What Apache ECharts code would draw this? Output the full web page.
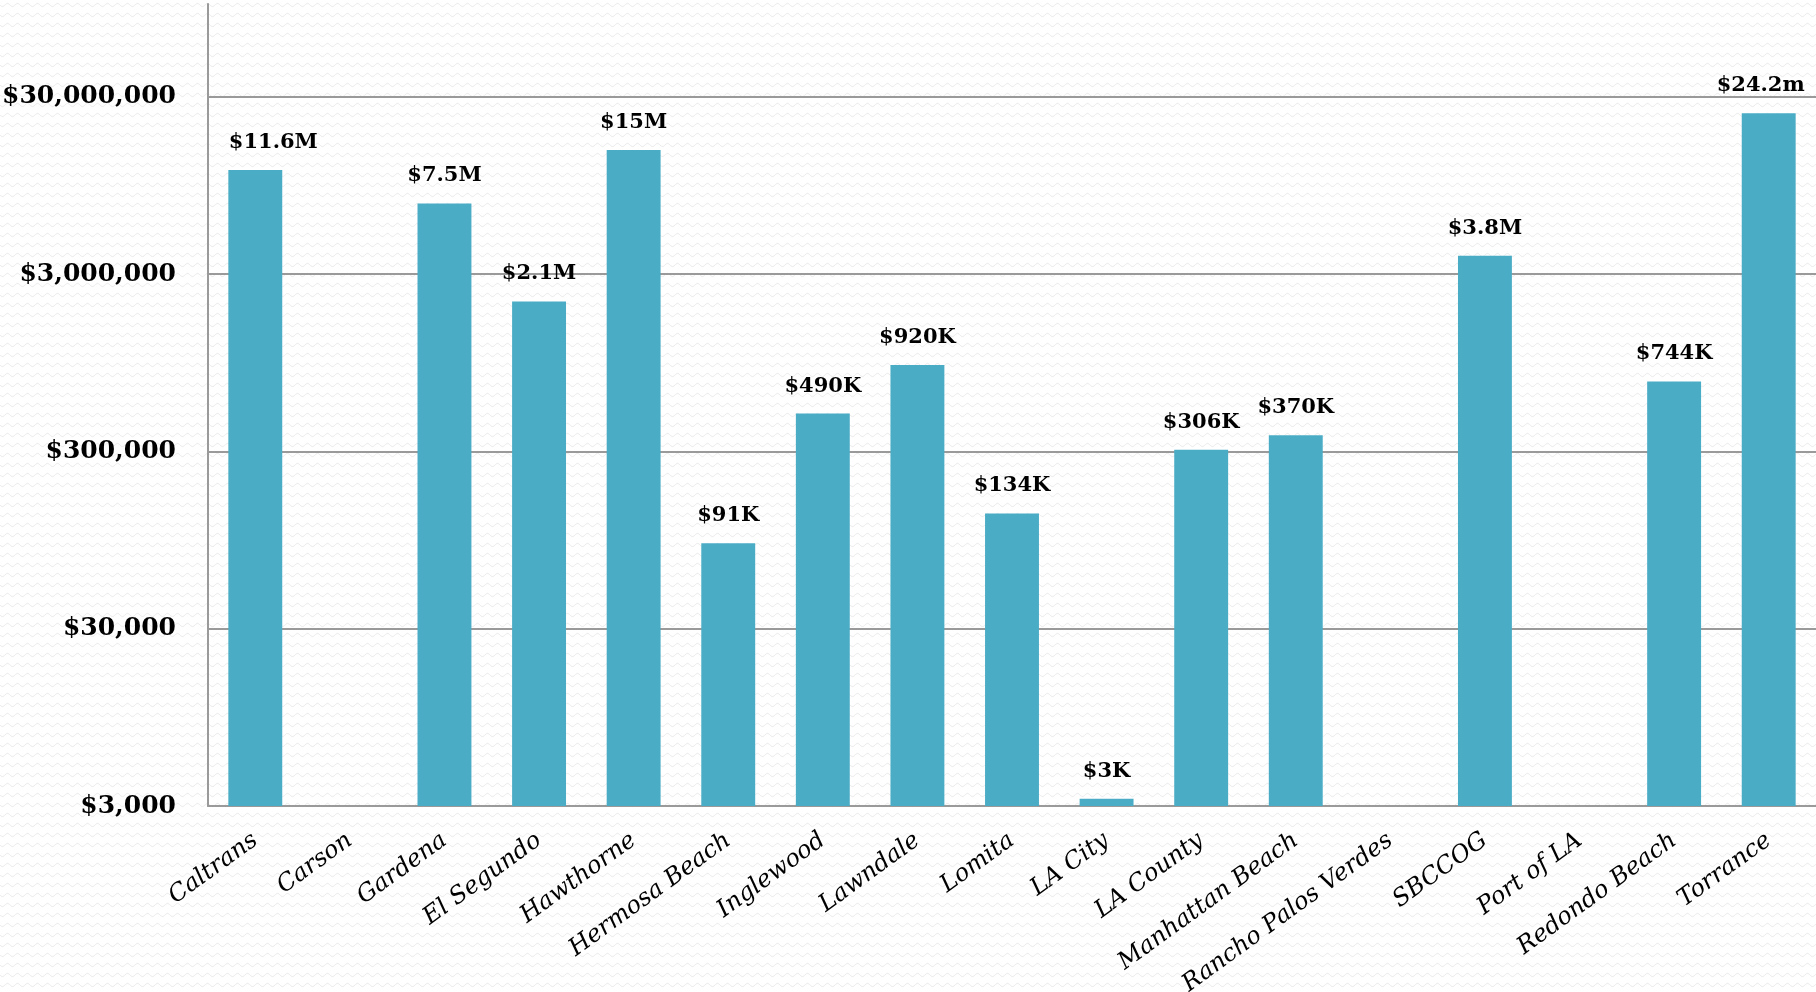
<!DOCTYPE html>
<html>
<head>
<meta charset="utf-8">
<script src="https://cdn.jsdelivr.net/npm/echarts@6/dist/echarts.min.js"></script>
<style>
html,body{margin:0;padding:0;width:1816px;height:992px;overflow:hidden;background:#fff;}
#chart{width:1816px;height:992px;}
</style>
</head>
<body>
<div id="chart"></div>
<script>
// ---- data ----
const categories = ['Caltrans','Carson','Gardena','El Segundo','Hawthorne','Hermosa Beach','Inglewood','Lawndale','Lomita','LA City','LA County','Manhattan Beach','Rancho Palos Verdes','SBCCOG','Port of LA','Redondo Beach','Torrance'];
const funding = [11600000, null, 7500000, 2100000, 15000000, 91000, 490000, 920000, 134000, 3300, 306000, 370000, null, 3800000, null, 744000, 24200000];
const valueLabels = ['$11.6M','','$7.5M','$2.1M','$15M','$91K','$490K','$920K','$134K','$3K','$306K','$370K','','$3.8M','','$744K','$24.2m'];
const yTicks = [3000, 30000, 300000, 3000000, 30000000];

// ---- subtle wave background ----
(function(){
  const c = document.createElement('canvas');
  c.width = 10; c.height = 10;
  const g = c.getContext('2d');
  g.fillStyle = '#ffffff'; g.fillRect(0,0,10,10);
  g.strokeStyle = '#e9e9e9'; g.lineWidth = 1;
  g.beginPath();
  for (let x = 0; x <= 10; x += 0.5) {
    const y = 5 + 1.6 * Math.sin(x / 10 * Math.PI * 2);
    if (x === 0) g.moveTo(x, y); else g.lineTo(x, y);
  }
  g.stroke();
  document.body.style.backgroundImage = 'url(' + c.toDataURL() + ')';
})();

// label nudges matching the original (first label moved right, last one left)
const labelOffsets = {0: [18, 0], 16: [-8, 0]};
const barData = funding.map((v, i) => labelOffsets[i] ? {value: v, label: {offset: labelOffsets[i]}} : v);

const chart = echarts.init(document.getElementById('chart'), null, {renderer: 'canvas'});
const serif = 'DejaVu Serif';
chart.setOption({
  backgroundColor: 'transparent',
  animation: false,
  grid: {left: 208, right: 0, top: 4, bottom: 186, containLabel: false, outerBoundsMode: 'none'},
  xAxis: {
    type: 'category',
    data: categories,
    axisLine: {show: true, lineStyle: {color: '#9a9a9a', width: 2}},
    axisTick: {show: false},
    axisLabel: {
      interval: 0,
      rotate: 36,
      margin: 32,
      color: '#000',
      fontFamily: serif,
      fontStyle: 'italic',
      fontSize: 24
    },
    splitLine: {show: false}
  },
  yAxis: {
    type: 'log',
    logBase: 10,
    min: 3000,
    max: 100000000,
    axisLine: {show: true, lineStyle: {color: '#9a9a9a', width: 2}},
    axisTick: {show: false, customValues: yTicks},
    axisLabel: {
      customValues: yTicks,
      margin: 32,
      color: '#000',
      fontFamily: serif,
      fontWeight: 'bold',
      fontSize: 25,
      formatter: v => '$' + Math.round(v).toLocaleString('en-US')
    },
    splitLine: {show: true, lineStyle: {color: '#9a9a9a', width: 2}}
  },
  series: [{
    type: 'bar',
    data: barData,
    barCategoryGap: '43%',
    itemStyle: {color: '#4BACC6'},
    label: {
      show: true,
      position: 'top',
      distance: 17,
      color: '#000',
      fontFamily: serif,
      fontWeight: 'bold',
      fontSize: 21,
      formatter: p => valueLabels[p.dataIndex]
    }
  }]
});
</script>
</body>
</html>
